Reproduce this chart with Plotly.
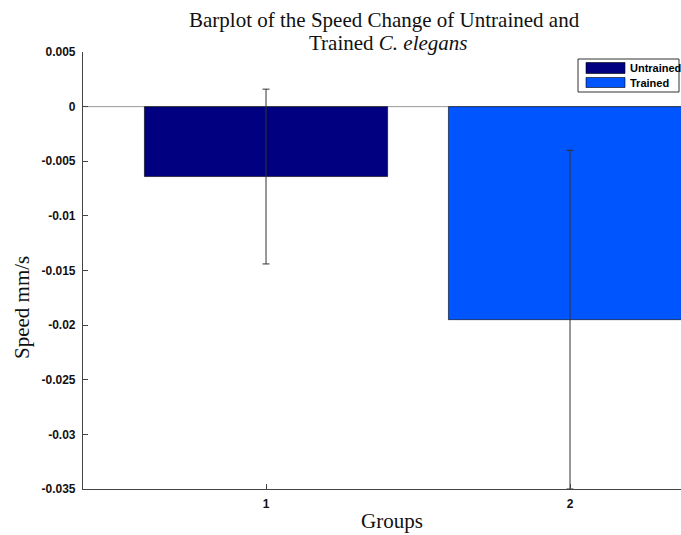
import plotly.graph_objects as go

# ---- data ----
groups = [1, 2]
group_names = ["Untrained", "Trained"]
means = [-0.0064, -0.0195]
errors = [0.0080, 0.0155]
bar_colors = ["#000080", "#0055FF"]
y_ticks = [0.005, 0, -0.005, -0.01, -0.015, -0.02, -0.025, -0.03, -0.035]
y_tick_text = ["0.005", "0", "-0.005", "-0.01", "-0.015", "-0.02", "-0.025", "-0.03", "-0.035"]
x_ticks = [1, 2]
x_tick_text = ["1", "2"]

W, H = 681, 535
ML, MR, MT, MB = 83, 0, 52, 46
PW, PH = W - ML - MR, H - MT - MB


def px(x):
    return (x - ML) / PW


def py(y):
    return (H - MB - y) / PH


def bold(lst):
    return ["<b>" + t + "</b>" for t in lst]


fig = go.Figure()
fig.add_trace(go.Bar(
    x=groups, y=means, width=0.8,
    marker=dict(color=bar_colors, line=dict(color="#000000", width=0.6)),
    error_y=dict(type="data", array=errors, visible=True,
                 color="#333333", thickness=1, width=3.5),
    showlegend=False,
))

# baseline at zero
fig.add_shape(type="line", xref="paper", yref="y", x0=0, x1=1, y0=0, y1=0,
              line=dict(color="#9a9a9a", width=1), layer="below")

serif = "Liberation Serif, Times New Roman, serif"
sans_b = "Liberation Sans, Arial, sans-serif"

annotations = [
    dict(text="Barplot of the Speed Change of Untrained and", x=px(384), y=py(20),
         font=dict(family=serif, size=21, color="#111")),
    dict(text="Trained <i>C. elegans</i>", x=px(388), y=py(43),
         font=dict(family=serif, size=21, color="#111")),
    dict(text="Speed mm/s", x=px(22), y=py(308), textangle=-90,
         font=dict(family=serif, size=21, color="#111")),
    dict(text="Groups", x=px(392), y=py(521),
         font=dict(family=serif, size=21, color="#111")),
]
for a in annotations:
    a.update(xref="paper", yref="paper", showarrow=False,
             xanchor="center", yanchor="middle")

# custom legend (MATLAB style)
fig.add_shape(type="rect", xref="paper", yref="paper",
              x0=px(578), x1=px(679), y0=py(59), y1=py(92),
              line=dict(color="#333333", width=1), fillcolor="white")
sw = [(62.5, 73.5), (77.5, 87.5)]
for (t, b), name, col in zip(sw, group_names, bar_colors):
    fig.add_shape(type="rect", xref="paper", yref="paper",
                  x0=px(586), x1=px(625), y0=py(b), y1=py(t),
                  line=dict(color="#000000", width=0.6), fillcolor=col)
    annotations.append(dict(text="<b>" + name + "</b>", x=px(628), y=py((t + b) / 2),
                            xref="paper", yref="paper", showarrow=False,
                            xanchor="left", yanchor="middle",
                            font=dict(family=sans_b, size=11, color="#000")))

fig.update_layout(
    width=W, height=H,
    margin=dict(l=ML, r=MR, t=MT, b=MB, pad=0),
    paper_bgcolor="white", plot_bgcolor="white",
    annotations=annotations,
    xaxis=dict(range=[0.398, 2.365], tickvals=x_ticks, ticktext=bold(x_tick_text),
               showgrid=False, zeroline=False, showline=True, linecolor="#444",
               linewidth=1.2, ticks="inside", ticklen=5, tickcolor="#444",
               tickfont=dict(family=sans_b, size=12, color="#111"),
               ticklabelstandoff=3),
    yaxis=dict(range=[-0.035, 0.005], tickvals=y_ticks, ticktext=bold(y_tick_text),
               showgrid=False, zeroline=False, showline=True, linecolor="#444",
               linewidth=1.2, ticks="inside", ticklen=5, tickcolor="#444",
               tickfont=dict(family=sans_b, size=12, color="#111"),
               ticklabelstandoff=4),
    bargap=0.2,
)

fig.write_html("out.html")
